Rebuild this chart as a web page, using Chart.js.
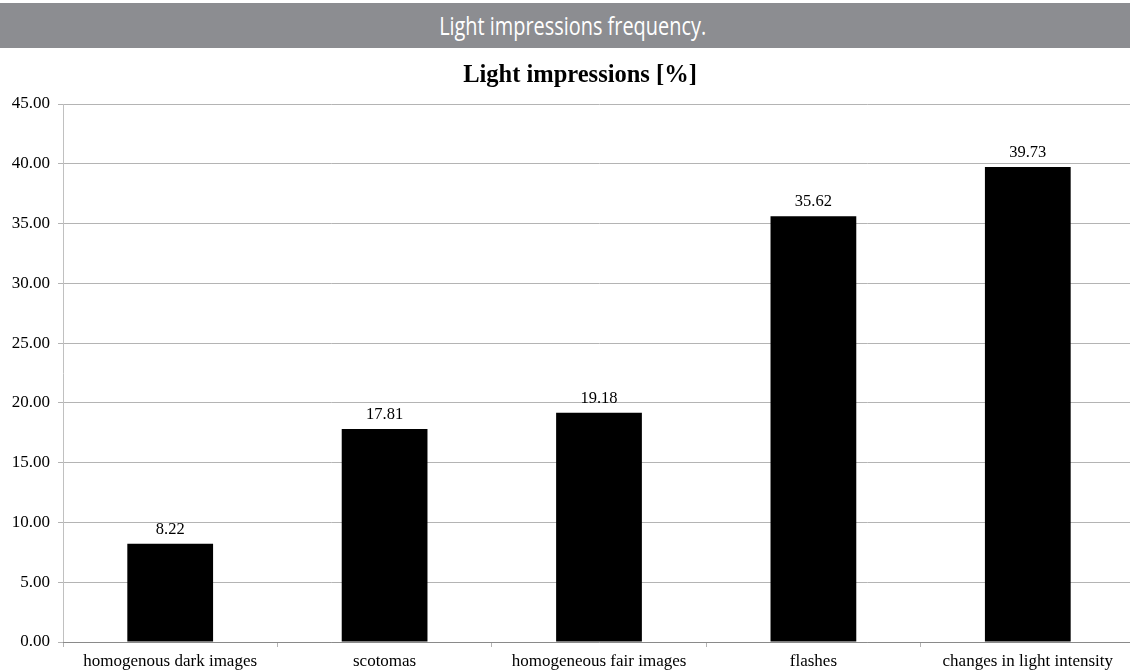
<!DOCTYPE html>
<html><head><meta charset="utf-8">
<script src="https://cdn.jsdelivr.net/npm/chart.js@4/dist/chart.umd.min.js"></script>
<style>
html,body{margin:0;padding:0;background:#fff;overflow:hidden;width:1130px;height:670px;}
#wrap{position:absolute;left:0;top:0;width:1136px;height:670px;}
#hdr{position:absolute;left:0;top:3px;width:1130px;height:45px;background:#8c8d91;color:#fff;
font-family:"Open Sans","DejaVu Sans Condensed",sans-serif;font-weight:400;
font-size:25px;line-height:45px;text-align:center;z-index:2;}
#hdr span{display:inline-block;transform-origin:50% 50%;padding-left:20px;}
#ttl{position:absolute;left:0;top:60px;width:1130px;text-align:center;z-index:2;
font-family:"Liberation Serif","Times New Roman",serif;font-weight:bold;font-size:24.5px;line-height:28px;color:#000;}
#ttl span{display:inline-block;padding-left:30px;}
</style></head>
<body>
<div id="wrap"><canvas id="c" width="1136" height="670"></canvas></div>
<div id="hdr"><span id="hs">Light impressions frequency.</span></div>
<div id="ttl"><span id="ts"></span></div>
<script>
const headerText = "Light impressions frequency.";
const chartTitle = "Light impressions [%]";
const categories = ["homogenous dark images","scotomas","homogeneous fair images","flashes","changes in light intensity"];
const values = [8.22, 17.81, 19.18, 35.62, 39.73];
const yMin = 0, yMax = 45, yStep = 5;

document.getElementById('hs').textContent = headerText;
document.getElementById('ts').textContent = chartTitle;
(function(){
  const hs = document.getElementById('hs');
  const w = hs.getBoundingClientRect().width - 20;
  if (w > 0) hs.style.transform = 'scaleX(' + (267 / w) + ')';
})();

const serif = '"Liberation Serif","Times New Roman",serif';

const valueLabels = {
  id: 'valueLabels',
  afterDatasetsDraw(chart) {
    const ctx = chart.ctx;
    const meta = chart.getDatasetMeta(0);
    ctx.save();
    ctx.font = '16.5px ' + serif;
    ctx.fillStyle = '#000';
    ctx.textAlign = 'center';
    ctx.textBaseline = 'alphabetic';
    meta.data.forEach((bar, i) => {
      ctx.fillText(values[i].toFixed(2), bar.x, bar.y - 10);
    });
    ctx.restore();
  }
};

new Chart(document.getElementById('c'), {
  type: 'bar',
  data: {
    labels: categories,
    datasets: [{
      data: values,
      backgroundColor: '#000',
      borderWidth: 0,
      categoryPercentage: 1.0,
      barPercentage: 0.4
    }]
  },
  options: {
    responsive: false,
    animation: false,
    layout: { padding: { top: 104, right: 1, left: 0, bottom: 0 } },
    plugins: {
      legend: { display: false },
      tooltip: { enabled: false },
      title: { display: false }
    },
    scales: {
      y: {
        min: yMin, max: yMax,
        afterFit(s) { s.width = 63; },
        ticks: { stepSize: yStep, color: '#000', padding: 8,
          font: { family: serif, size: 17 },
          callback: v => Number(v).toFixed(2) },
        grid: { color: '#b4b4b4', lineWidth: 1, tickLength: 5, drawTicks: true },
        border: { color: '#c0c0c0', width: 1 }
      },
      x: {
        afterFit(s) { s.height = 28; },
        ticks: { color: '#000', padding: 4, maxRotation: 0, autoSkip: false,
          font: { family: serif, size: 17 } },
        grid: { drawOnChartArea: false, drawTicks: true, tickLength: 5, color: '#b4b4b4', offset: true },
        border: { color: '#8a8a8a', width: 1 }
      }
    }
  },
  plugins: [valueLabels]
});
</script>
</body></html>
